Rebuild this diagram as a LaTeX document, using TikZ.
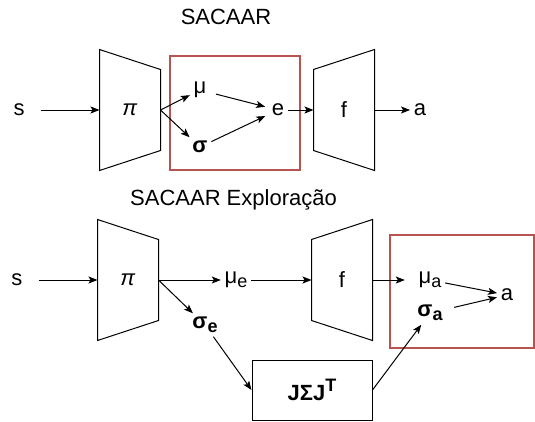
\documentclass[tikz,border=0pt]{standalone}
\usepackage{fontspec}
\setmainfont{Liberation Sans}
\usetikzlibrary{arrows.meta, positioning}
\definecolor{grpred}{HTML}{B85450}
\newcommand{\lowtxt}[1]{\raisebox{-4pt}{\fontsize{18}{20}\selectfont #1}}
\newcommand{\hightxt}[1]{\raisebox{9pt}{\fontsize{18}{20}\selectfont #1}}

\begin{document}
\begin{tikzpicture}[x=1pt, y=-1pt, on grid, line width=1pt,
    >={Stealth[length=9pt, width=7pt, inset=2pt]},
    font=\fontsize{22}{26}\selectfont,
    net/.style={minimum width=60pt, minimum height=120pt, inner sep=0pt},
    grp/.style={draw=grpred, line width=2pt},
    mbox/.style={draw, minimum width=120pt, minimum height=60pt}]
        \useasboundingbox (0,0) rectangle (535,421);

        % SACAAR
        \node[anchor=base] (ttl1) at (226,24) {SACAAR};
        \node[minimum width=42pt] (s1) at (19,110) {s};
        \node[net] (pi1) [right=111pt of s1] {\textit{π}};
        \node (mu1) [above right=20pt and 70pt of pi1] {μ};
        \node (sg1) [below right=37pt and 70pt of pi1] {\bfseries σ};
        \node (e1)  [right=148pt of pi1] {e};
        \node[net] (f1) [right=66pt of e1] {f};
        \node (a1)  [right=76pt of f1] {a};
        \draw (pi1.north west) -- ([yshift=-20pt]pi1.north east) -- ([yshift=20pt]pi1.south east) -- (pi1.south west) -- cycle;
        \draw (f1.north east) -- ([yshift=-20pt]f1.north west) -- ([yshift=20pt]f1.south west) -- (f1.south east) -- cycle;
        \draw[grp] (170,56) rectangle (300,170);
        \draw[->] (s1) -- (pi1);
        \draw[->] (pi1.east) -- (mu1); \draw[->] (pi1.east) -- (sg1);
        \draw[->, shorten <=6pt, shorten >=3pt] (mu1) -- (e1); \draw[->, shorten >=3pt] (sg1) -- (e1);
        \draw[->] (e1) -- (f1); \draw[->] (f1) -- (a1);

        % SACAAR Exploracao
        \node[anchor=base] (ttl2) at (233.5,205) {SACAAR Exploração};
        \node[minimum width=42pt] (s2) at (17,280) {s};
        \node[net] (pi2) [right=111pt of s2] {\textit{π}};
        \node (mue) [right=108pt of pi2] {μ\lowtxt{e}};
        \node (sge) [below right=45pt and 77pt of pi2] {\bfseries σ\lowtxt{e}};
        \node[net] (f2) [right=106pt of mue] {f};
        \node (mua) [right=88pt of f2] {μ\lowtxt{a}};
        \node (sga) [below=33pt of mua] {\bfseries σ\lowtxt{a}};
        \node (a2)  [below right=15pt and 77pt of mua] {a};
        \node[mbox] (jsj) [below right=110pt and 184pt of pi2] {\bfseries JΣJ\hightxt{T}};
        \draw (pi2.north west) -- ([yshift=-20pt]pi2.north east) -- ([yshift=20pt]pi2.south east) -- (pi2.south west) -- cycle;
        \draw (f2.north east) -- ([yshift=-20pt]f2.north west) -- ([yshift=20pt]f2.south west) -- (f2.south east) -- cycle;
        \draw[grp] (390,235) rectangle (534,348);
        \draw[->] (s2) -- (pi2);
        \draw[->] (pi2.east) -- (mue); \draw[->] (pi2.east) -- (sge);
        \draw[->] (mue) -- (f2); \draw[->] (f2) -- ([xshift=-10pt]mua.west);
        \draw[->] (mua) -- (a2); \draw[->, shorten <=8pt] (sga) -- (a2);
        \draw[->] (sge) -- (jsj.west); \draw[->] (jsj.east) -- (sga);
      \end{tikzpicture}
\end{document}
